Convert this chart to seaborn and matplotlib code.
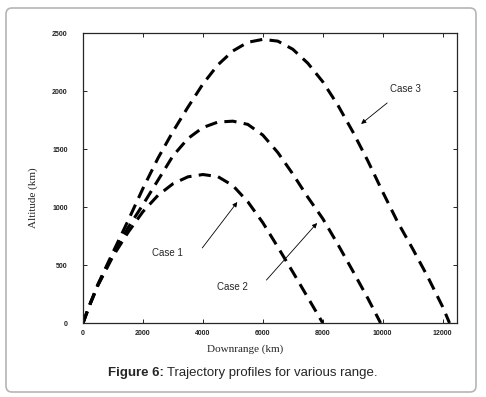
import numpy as np
import pandas as pd
import matplotlib
matplotlib.use("Agg")
import matplotlib.pyplot as plt
import seaborn as sns
from matplotlib.patches import FancyBboxPatch

# trajectories (downrange km, altitude km)
case1_x = [0, 200, 500, 1000, 1500, 2000, 2500, 3000, 3500, 4000, 4500, 5000, 5500, 6000, 6500, 7000, 7500, 8000]
case1_y = [0, 140, 325, 575, 780, 960, 1100, 1200, 1260, 1280, 1262, 1185, 1045, 865, 655, 440, 220, 0]

case2_x = [0, 200, 500, 1000, 1500, 2000, 2500, 3000, 3500, 4000, 4500, 5000, 5500, 6000, 6500, 7000, 7500, 8000, 8500, 9000, 9500, 9930]
case2_y = [0, 140, 330, 590, 820, 1020, 1230, 1440, 1590, 1685, 1732, 1740, 1712, 1620, 1470, 1285, 1085, 900, 680, 450, 215, 0]

case3_x = [0, 200, 500, 1000, 1500, 2000, 2500, 3000, 3500, 4000, 4500, 5000, 5500, 6000, 6500, 7000, 7500, 8000, 8500, 9000, 9500, 10000, 10500, 11000, 11500, 12000, 12230]
case3_y = [0, 142, 335, 610, 880, 1160, 1420, 1650, 1860, 2060, 2225, 2345, 2420, 2445, 2430, 2360, 2240, 2080, 1880, 1650, 1400, 1130, 870, 640, 400, 140, 0]

x_ticks = [0, 2000, 4000, 6000, 8000, 10000, 12000]
y_ticks = [0, 500, 1000, 1500, 2000, 2500]

sns.set_style("ticks")
plt.rcParams['font.family'] = ['Liberation Sans', 'DejaVu Sans']

fig = plt.figure(figsize=(4.86, 3.97), dpi=100)
ax = fig.add_axes([83 / 486, 74 / 397, 374 / 486, 290 / 397])

for xs, ys in [(case1_x, case1_y), (case2_x, case2_y), (case3_x, case3_y)]:
    df = pd.DataFrame({'x': xs, 'y': ys})
    sns.lineplot(data=df, x='x', y='y', ax=ax, color='black', lw=2.2,
                 linestyle=(0, (4.0, 2.4)), sort=False)

ax.set_xlim(0, 12480)
ax.set_ylim(0, 2500)
ax.set_xticks(x_ticks)
ax.set_yticks(y_ticks)
ax.tick_params(direction='in', length=3, width=0.7, top=True, right=True, labelsize=5)
ax.tick_params(axis='y', pad=11)
ax.tick_params(axis='x', pad=5)
for lab in ax.get_xticklabels() + ax.get_yticklabels():
    lab.set_fontweight('bold')
    lab.set_color('#222222')
for s in ax.spines.values():
    s.set_linewidth(0.9)
    s.set_visible(True)

ax.set_xlabel('Downrange (km)', family='Liberation Serif', fontsize=8)
ax.set_ylabel('Altitude (km)', family='Liberation Serif', fontsize=8)
ax.xaxis.set_label_coords(0.433, -0.09)
ax.xaxis.label.set_va('center')
ax.yaxis.set_label_coords(-0.134, 0.431)
ax.yaxis.label.set_va('center')

arrow = dict(arrowstyle='-|>', lw=0.6, color='black', mutation_scale=7, shrinkA=0, shrinkB=0)
ax.annotate('', xy=(5150, 1043), xytext=(3980, 647), arrowprops=arrow)
ax.annotate('', xy=(7810, 862), xytext=(6120, 370), arrowprops=arrow)
ax.annotate('', xy=(9280, 1716), xytext=(10150, 1897), arrowprops=arrow)
ax.text(2820, 603, 'Case 1', fontsize=7, ha='center', va='center')
ax.text(4980, 310, 'Case 2', fontsize=7, ha='center', va='center')
ax.text(10750, 2017, 'Case 3', fontsize=7, ha='center', va='center')

# caption
t1 = fig.text(108 / 486, 1 - 373 / 397, 'Figure 6:', fontsize=9.5, fontweight='bold', ha='left', va='center')
fig.canvas.draw()
bb = t1.get_window_extent()
fig.text((bb.x1 + 3) / 486, 1 - 373 / 397, 'Trajectory profiles for various range.', fontsize=9.5,
         ha='left', va='center')

# frame round the figure
frame = FancyBboxPatch((0.06, 0.05), 4.70, 3.84, boxstyle='round,pad=0,rounding_size=0.06',
                       transform=fig.dpi_scale_trans, facecolor='none', edgecolor='#b5b5b5', lw=1.2)
fig.patches.append(frame)

fig.savefig('out.png', dpi=100)
